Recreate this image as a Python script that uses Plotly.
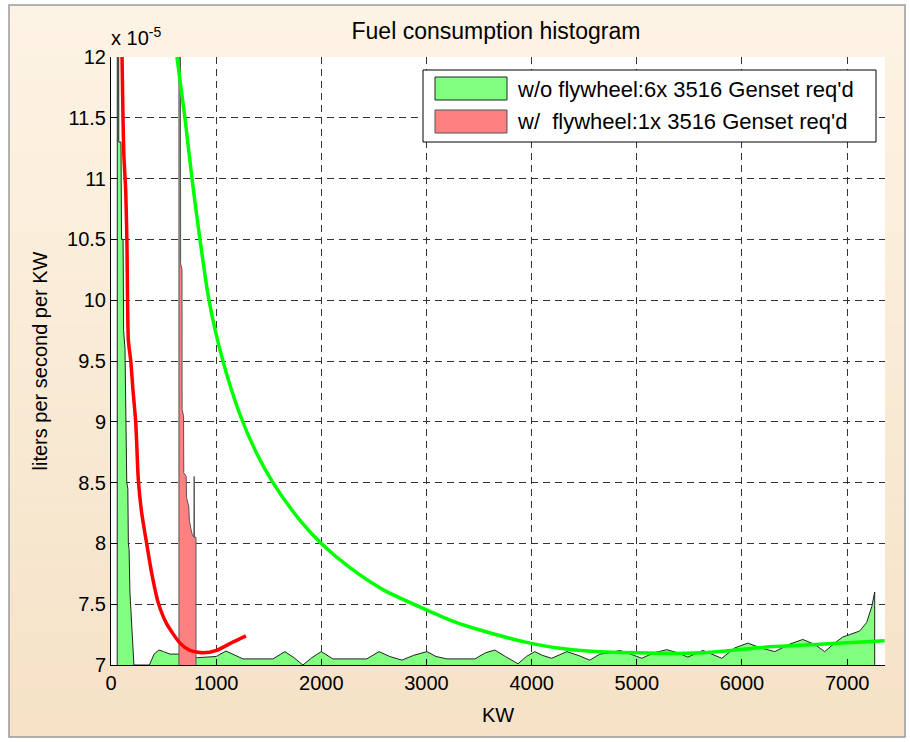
import plotly.graph_objects as go

# values are in units of 1e-5 liters per second per KW
kw_hist_nofly = [58, 60, 72, 74, 95, 100, 115, 120, 133, 137, 143, 150, 160, 165, 172, 180, 190, 200, 209, 218,
                 350, 365, 410, 456, 500, 560, 637, 700, 820, 1000, 1093, 1180, 1255, 1540, 1654, 1740, 1825,
                 1910, 2000, 2110, 2433, 2548, 2650, 2766, 2880, 3004, 3090, 3194, 3460, 3560, 3650, 3750,
                 3870, 3950, 4030, 4100, 4190, 4335, 4440, 4553, 4650, 4750, 4838, 4940, 5048, 5160, 5285,
                 5390, 5485, 5627, 5720, 5808, 5930, 6055, 6180, 6312, 6450, 6578, 6690, 6787, 6880, 6958,
                 7025, 7120, 7186, 7234, 7262, 7263]
val_hist_nofly = [0, 13, 13, 11.3, 11.3, 10.5, 10.5, 9.75, 9.6, 9.0, 8.95, 8.5, 8.45, 8.0, 7.95, 7.6, 7.45, 7.25, 7.1, 7.0,
                  7.0, 7.0, 7.09, 7.123, 7.11, 7.09, 7.09, 7.07, 7.06, 7.07, 7.115, 7.08, 7.05, 7.05, 7.11, 7.06, 7.0,
                  7.06, 7.11, 7.05, 7.05, 7.11, 7.07, 7.04, 7.08, 7.11, 7.07, 7.05, 7.05, 7.1, 7.123, 7.07,
                  7.01, 7.07, 7.11, 7.08, 7.055, 7.11, 7.08, 7.04, 7.09, 7.1, 7.12, 7.09, 7.055, 7.1, 7.126,
                  7.1, 7.065, 7.12, 7.09, 7.055, 7.14, 7.18, 7.14, 7.11, 7.17, 7.21, 7.17, 7.11, 7.18, 7.23,
                  7.25, 7.28, 7.35, 7.48, 7.6, 0]

kw_hist_fly = [646, 646, 660, 662, 675, 676, 690, 692, 715, 718, 740, 745, 760, 770, 788, 791, 794, 808, 808]
val_hist_fly = [0, 12.6, 12.6, 10.3, 10.25, 9.1, 9.05, 8.58, 8.55, 8.38, 8.3, 8.19, 8.12, 8.08, 8.05, 8.55, 8.05, 8.05, 0]

kw_curve_nofly = [627, 703, 770, 846, 932, 1055, 1226, 1380, 1540, 1797, 2000, 2272, 2586, 3061, 3222, 3460,
                  3983, 4250, 4525, 5000, 5475, 5789, 6264, 6740, 7357]
val_curve_nofly = [12.0, 11.5, 11.0, 10.5, 10.0, 9.53, 9.06, 8.75, 8.5, 8.19, 8.0, 7.8, 7.62, 7.43, 7.37, 7.3,
                   7.18, 7.14, 7.115, 7.1, 7.096, 7.11, 7.15, 7.17, 7.2]

kw_curve_fly = [105, 114, 122, 140, 152, 165, 188, 209, 235, 260, 292, 339, 386, 450, 529, 656, 751, 877,
                1004, 1162, 1283]
val_curve_fly = [12.0, 11.5, 11.2, 10.9, 10.45, 9.67, 9.5, 9.26, 9.0, 8.52, 8.25, 8.0, 7.76, 7.51, 7.34, 7.18,
                 7.12, 7.1, 7.12, 7.19, 7.24]

legend_labels = ["w/o flywheel:6x 3516 Genset req'd", "w/\u00a0\u00a0flywheel:1x 3516 Genset req'd"]
x_ticks = [0, 1000, 2000, 3000, 4000, 5000, 6000, 7000]
y_ticks = [7, 7.5, 8, 8.5, 9, 9.5, 10, 10.5, 11, 11.5, 12]

W, H = 910, 742
L, R, T, B = 111, 885, 57, 665
FONT = "Liberation Sans, Arial, sans-serif"


def px(X):
    return (X - L) / (R - L)


def py(Y):
    return (B - Y) / (B - T)


fig = go.Figure()

fig.add_trace(go.Scatter(x=kw_hist_nofly, y=val_hist_nofly, mode="lines", fill="tozeroy",
                         fillcolor="#80ff80", line=dict(color="#222222", width=1), showlegend=False))
fig.add_trace(go.Scatter(x=kw_hist_fly, y=val_hist_fly, mode="lines", fill="tozeroy",
                         fillcolor="#ff8080", line=dict(color="#555555", width=1), showlegend=False))
fig.add_trace(go.Scatter(x=kw_curve_nofly, y=val_curve_nofly, mode="lines",
                         line=dict(color="#00ff00", width=3.5, shape="spline", smoothing=0.8),
                         showlegend=False))
fig.add_trace(go.Scatter(x=kw_curve_fly, y=val_curve_fly, mode="lines",
                         line=dict(color="#ff0000", width=3.5, shape="spline", smoothing=0.6),
                         showlegend=False))

# background gradient strips inside the grey frame
shapes = []
n = 60
top_c = (253, 243, 228)
bot_c = (245, 226, 199)
y0, y1 = 5, 737
for i in range(n):
    a = y0 + (y1 - y0) * i / n
    b = y0 + (y1 - y0) * (i + 1) / n + 0.6
    t = i / (n - 1)
    c = tuple(round(top_c[k] + (bot_c[k] - top_c[k]) * t) for k in range(3))
    shapes.append(dict(type="rect", xref="paper", yref="paper", layer="below",
                       x0=px(9), x1=px(905), y0=py(b), y1=py(a),
                       fillcolor="rgb(%d,%d,%d)" % c, line=dict(width=0)))
shapes.append(dict(type="rect", xref="paper", yref="paper", layer="below",
                   x0=px(9), x1=px(905), y0=py(737), y1=py(5),
                   fillcolor="rgba(0,0,0,0)", line=dict(color="#9a9a9a", width=1.5)))
shapes.append(dict(type="rect", xref="paper", yref="paper", layer="below",
                   x0=0, x1=1, y0=0, y1=1, fillcolor="white", line=dict(width=0)))

# legend box
shapes.append(dict(type="rect", xref="paper", yref="paper", layer="above",
                   x0=px(423), x1=px(876), y0=py(142), y1=py(70),
                   fillcolor="white", line=dict(color="black", width=1)))
shapes.append(dict(type="rect", xref="paper", yref="paper", layer="above",
                   x0=px(435), x1=px(507), y0=py(100), y1=py(77),
                   fillcolor="#80ff80", line=dict(color="#222222", width=1)))
shapes.append(dict(type="rect", xref="paper", yref="paper", layer="above",
                   x0=px(435), x1=px(507), y0=py(133), y1=py(110),
                   fillcolor="#ff8080", line=dict(color="#555555", width=1)))

annotations = [
    dict(text=legend_labels[0], xref="paper", yref="paper", x=px(515), y=py(89),
         xanchor="left", yanchor="middle", showarrow=False, font=dict(family=FONT, size=22, color="black")),
    dict(text=legend_labels[1], xref="paper", yref="paper", x=px(515), y=py(121),
         xanchor="left", yanchor="middle", showarrow=False, font=dict(family=FONT, size=22, color="black")),
    dict(text="x 10<sup>-5</sup>", xref="paper", yref="paper", x=px(109), y=py(37),
         xanchor="left", yanchor="middle", showarrow=False, font=dict(family=FONT, size=20, color="black")),
]

fig.update_layout(
    width=W, height=H,
    margin=dict(l=L, r=W - R, t=T, b=H - B),
    paper_bgcolor="white",
    plot_bgcolor="white",
    font=dict(family=FONT, size=20, color="black"),
    title=dict(text="Fuel consumption histogram", x=px(496), xref="paper", xanchor="center",
               y=1 - 31 / H, yanchor="middle", font=dict(family=FONT, size=23, color="black")),
    shapes=shapes,
    annotations=annotations,
    xaxis=dict(range=[0, 7360], tickvals=x_ticks, tickformat="d",
               showgrid=True, gridcolor="#333333", griddash="7px,5px", gridwidth=1,
               showline=True, linecolor="black", linewidth=1, mirror=False,
               ticks="inside", ticklen=6, tickcolor="black", zeroline=False,
               title=dict(text="KW", standoff=14, font=dict(size=20))),
    yaxis=dict(range=[7, 12], tickvals=y_ticks,
               showgrid=True, gridcolor="#333333", griddash="7px,5px", gridwidth=1,
               showline=True, linecolor="black", linewidth=1, mirror=False,
               ticks="inside", ticklen=6, tickcolor="black", zeroline=False,
               title=dict(text="liters per second per KW", standoff=14, font=dict(size=20))),
)

fig.write_html("out.html", config={"displayModeBar": False},
               post_script="document.body.style.margin='0';")
